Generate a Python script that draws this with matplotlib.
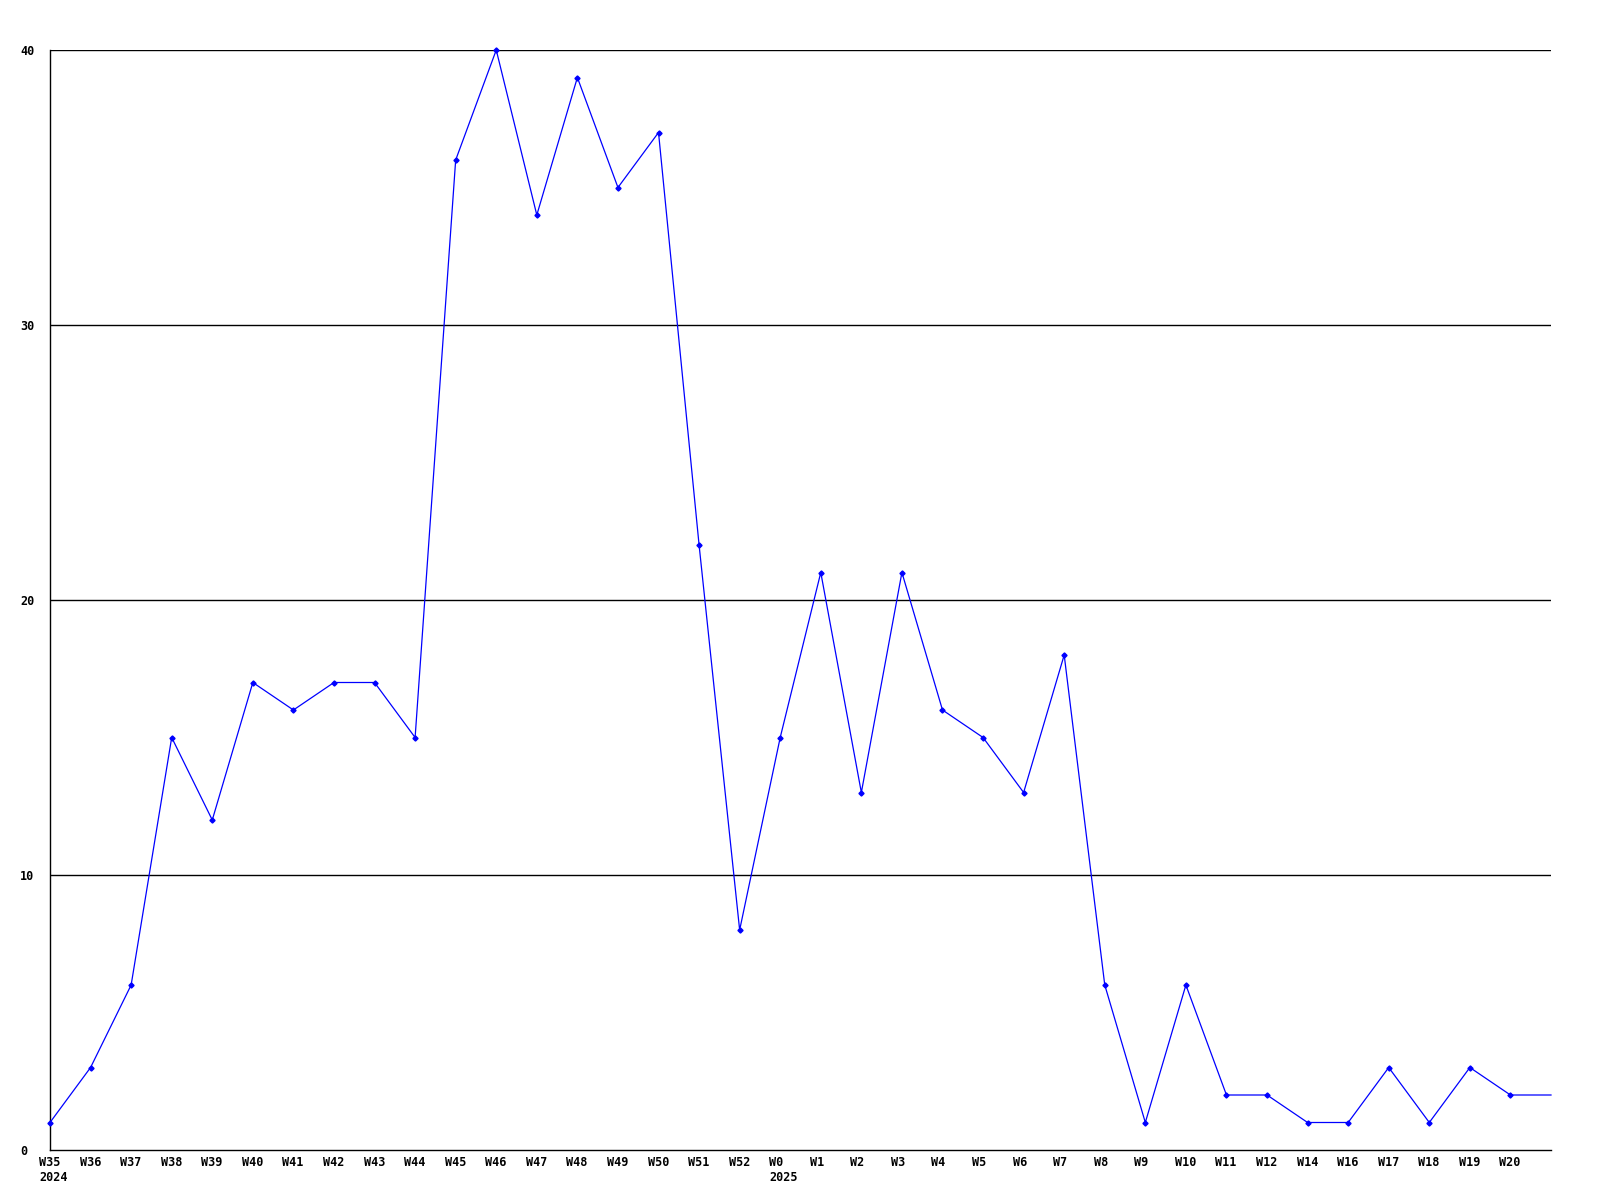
import matplotlib
matplotlib.use("Agg")
import matplotlib.pyplot as plt
import matplotlib.transforms as mtransforms

# weekly counts, W35 2024 .. W20 2025 (last value continues to the edge, unlabeled)
week_labels = [
    "W35\n2024", "W36", "W37", "W38", "W39", "W40", "W41", "W42", "W43", "W44",
    "W45", "W46", "W47", "W48", "W49", "W50", "W51", "W52", "W0\n2025", "W1",
    "W2", "W3", "W4", "W5", "W6", "W7", "W8", "W9", "W10", "W11",
    "W12", "W14", "W16", "W17", "W18", "W19", "W20", "",
]
counts = [
    1, 3, 6, 15, 12, 17, 16, 17, 17, 15,
    36, 40, 34, 39, 35, 37, 22, 8, 15, 21,
    13, 21, 16, 15, 13, 18, 6, 1, 6, 2,
    2, 1, 1, 3, 1, 3, 2, 2,
]
y_ticks = [0, 10, 20, 30, 40]

W, H = 1600, 1200
fig = plt.figure(figsize=(16, 12), dpi=100)
ax = fig.add_axes([50 / W, 50 / H, 1501 / W, 1100 / H])

xs = list(range(len(counts)))
ax.plot(xs, counts, color="#0000ff", linewidth=0.9, marker="D", markersize=2.6,
        markevery=list(range(len(counts) - 1)), clip_on=False, zorder=3)

for v in y_ticks[1:]:
    ax.axhline(v, color="black", linewidth=1.0, zorder=1)

ax.set_xlim(0, len(counts) - 1)
ax.set_ylim(0, 40)
for side in ("top", "right"):
    ax.spines[side].set_visible(False)
for side in ("left", "bottom"):
    ax.spines[side].set_linewidth(1.0)

font = dict(family="DejaVu Sans Mono", weight="bold", size=8.5)
ax.set_xticks(xs)
ax.set_xticklabels(week_labels, ha="left", multialignment="left", **font)
ax.set_yticks(y_ticks)
ax.set_yticklabels([str(v) for v in y_ticks], ha="left", **font)
ax.tick_params(axis="both", length=0)
ax.tick_params(axis="x", pad=4)
ax.tick_params(axis="y", pad=21.6)

shift = mtransforms.ScaledTranslation(-11 / 100, 0, fig.dpi_scale_trans)
for lbl in ax.get_xticklabels():
    lbl.set_transform(lbl.get_transform() + shift)

fig.savefig("out.png", dpi=100)
